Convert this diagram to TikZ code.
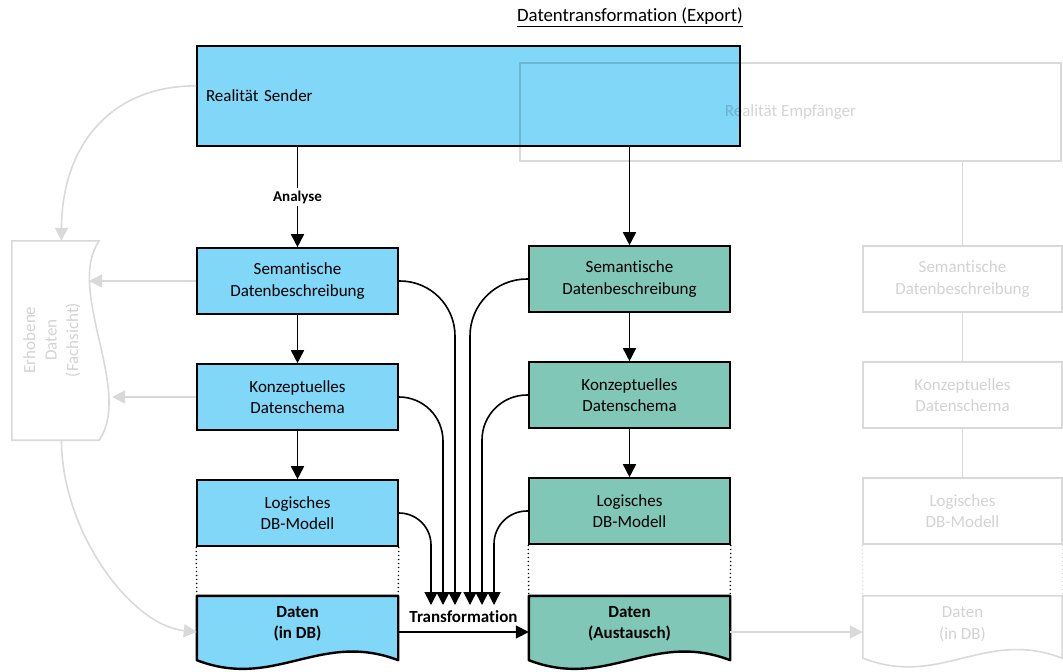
\documentclass[tikz,border=0pt]{standalone}
\usepackage{fontspec}
\setmainfont{Carlito}[Ligatures={NoCommon}]
\usetikzlibrary{arrows.meta,calc}

\definecolor{senderblue}{HTML}{80D7F7}
\definecolor{exchgreen}{HTML}{80C7B7}
\definecolor{faded}{HTML}{D9D9D9}
\definecolor{fadedtext}{HTML}{D2D2D2}

\newcommand{\txtfont}{\fontsize{17}{21.5}\selectfont}
\newcommand{\lblfont}{\fontsize{15}{17}\selectfont\bfseries}
\newcommand{\ttlfont}{\fontsize{18.8}{22}\selectfont}

\begin{document}
\begin{tikzpicture}[x=1pt,y=-1pt,
  every node/.style={inner sep=0pt, align=center, font=\txtfont},
  card/.style={draw=black, line width=1.6pt, minimum width=201pt, minimum height=66pt},
  ghostcard/.style={draw=faded, line width=1.6pt, minimum width=199pt, minimum height=66pt, text=fadedtext},
  dataspot/.style={minimum width=201pt, minimum height=56pt, font=\txtfont\bfseries},
  datashape/.style={draw=black, line width=2.4pt, line join=round},
  link/.style={draw=black, line width=1.6pt},
  arr/.style={link, -{Triangle[width=13pt,length=13pt]}},
  fadelink/.style={draw=faded, line width=1.6pt},
  fadearr/.style={fadelink, -{Triangle[width=13pt,length=13pt]}},
  dots/.style={line width=1.4pt, dash pattern=on 1.4pt off 2.6pt},
]
\useasboundingbox (0,0) rectangle (1063,672);

% heading
\node[font=\ttlfont] (title) at (630,17) {\underline{Datentransformation (Export)}};

% sender reality and the receiver reality lying behind it
\node[card, fill=senderblue, minimum width=543pt, minimum height=100pt,
      text width=525pt, align=left, inner xsep=9pt] (sender) at (468.5,96) {Realität Sender};
\node[draw=black, draw opacity=0.15, text=black, text opacity=0.17, line width=1.6pt,
      minimum width=541pt, minimum height=98pt] (recv) at (790.5,112) {Realität Empfänger};

% sender column
\node[card, fill=senderblue] (sL) at (297.5,281) {Semantische\\Datenbeschreibung};
\node[card, fill=senderblue] (kL) at (297.5,397) {Konzeptuelles\\Datenschema};
\node[card, fill=senderblue] (lL) at (297.5,513) {Logisches\\DB-Modell};
\node[dataspot] (dbL) at (297.5,624) {};
\draw[datashape, fill=senderblue] (dbL.north west) -- (dbL.north east)
  -- ($(dbL.south east)+(0,8)$) .. controls +(-78,-30) and +(78,30) .. ($(dbL.south west)+(0,8)$) -- cycle;
\node[font=\txtfont\bfseries] (dbLt) at (dbL.center) {Daten\\(in DB)};

% exchange column
\node[card, fill=exchgreen] (sM) at (629.5,279) {Semantische\\Datenbeschreibung};
\node[card, fill=exchgreen] (kM) at (629.5,395) {Konzeptuelles\\Datenschema};
\node[card, fill=exchgreen] (lM) at (629.5,511) {Logisches\\DB-Modell};
\node[dataspot] (dbM) at (629.5,624) {};
\draw[datashape, fill=exchgreen] (dbM.north west) -- (dbM.north east)
  -- ($(dbM.south east)+(0,8)$) .. controls +(-78,-30) and +(78,30) .. ($(dbM.south west)+(0,8)$) -- cycle;
\node[font=\txtfont\bfseries] (dbMt) at (dbM.center) {Daten\\(Austausch)};

% receiver column (faded)
\node[ghostcard] (gS) at (962.5,279) {Semantische\\Datenbeschreibung};
\node[ghostcard] (gK) at (962.5,395) {Konzeptuelles\\Datenschema};
\node[ghostcard] (gL) at (962.5,511) {Logisches\\DB-Modell};
\node[dataspot, minimum width=199pt, text=fadedtext, font=\txtfont] (dbR) at (962.5,624) {};
\draw[fadelink] (dbR.north west) -- (dbR.north east)
  -- ($(dbR.south east)+(0,6)$) .. controls +(-78,-30) and +(78,30) .. ($(dbR.south west)+(0,6)$) -- cycle;
\node[text=fadedtext] (dbRt) at (dbR.center) {Daten\\(in DB)};

% collected data, professional view (faded)
\node[minimum width=99pt, minimum height=199pt] (erh) at (61.5,340.5) {};
\draw[fadelink] (erh.north west) -- ($(erh.north east)+(-12,0)$)
  .. controls +(-34,49) and +(34,-50) .. ($(erh.south east)+(-12,0)$) -- (erh.south west) -- cycle;
\node[rotate=90, text=fadedtext] (erht) at (52,340) {Erhobene\\Daten\\(Fachsicht)};
\coordinate (w1) at (89,281);
\coordinate (w2) at (112,397);

% faded connections
\draw[fadearr] ($(sender.north west)!0.4!(sender.south west)$) .. controls +(-90,0) and +(0,-90) .. (erh.north);
\draw[fadearr] (sL.west) -- (w1);
\draw[fadearr] (kL.west) -- (w2);
\draw[fadearr] (erh.south) .. controls +(0,90) and +(-67,-7) .. ($(dbL.west)+(0,8)$);
\draw[fadearr] ($(dbM.east)+(0,8)$) -- ($(dbR.west)+(0,8)$);
\draw[fadelink] (gS.north |- recv.south) -- (gS.north);
\draw[fadelink] (gS) -- (gK);
\draw[fadelink] (gK) -- (gL);
\draw[fadelink, dots] (gL.south west) -- (dbR.north west);
\draw[fadelink, dots] (gL.south east) -- (dbR.north east);

% vertical flow
\draw[arr] (sL.north |- sender.south) -- node[fill=white, font=\lblfont, inner sep=2.5pt] (ana) {Analyse} (sL.north);
\draw[arr] (sL) -- (kL);
\draw[arr] (kL) -- (lL);
\draw[arr] (sM.north |- sender.south) -- (sM.north);
\draw[arr] (sM) -- (kM);
\draw[arr] (kM) -- (lM);
\draw[link, dots] (lL.south west) -- (dbL.north west);
\draw[link, dots] (lL.south east) -- (dbL.north east);
\draw[link, dots] (lM.south west) -- (dbM.north west);
\draw[link, dots] (lM.south east) -- (dbM.north east);

% transformation
\draw[arr] ($(dbL.east)+(0,8)$) -- node[above=9pt, font=\txtfont\bfseries] (trf) {Transformation} ($(dbM.west)+(0,8)$);

\coordinate (t1) at (431,605);
\coordinate (t2) at (443,605);
\coordinate (t3) at (455,605);
\coordinate (t4) at (470,605);
\coordinate (t5) at (482,605);
\coordinate (t6) at (494,605);
\draw[arr, rounded corners=55pt] (sL.east) -| (t3);
\draw[arr, rounded corners=44pt] (kL.east) -| (t2);
\draw[arr, rounded corners=32pt] (lL.east) -| (t1);
\draw[arr, rounded corners=57pt] (sM.west) -| (t4);
\draw[arr, rounded corners=45pt] (kM.west) -| (t5);
\draw[arr, rounded corners=33pt] (lM.west) -| (t6);
\end{tikzpicture}
\end{document}
